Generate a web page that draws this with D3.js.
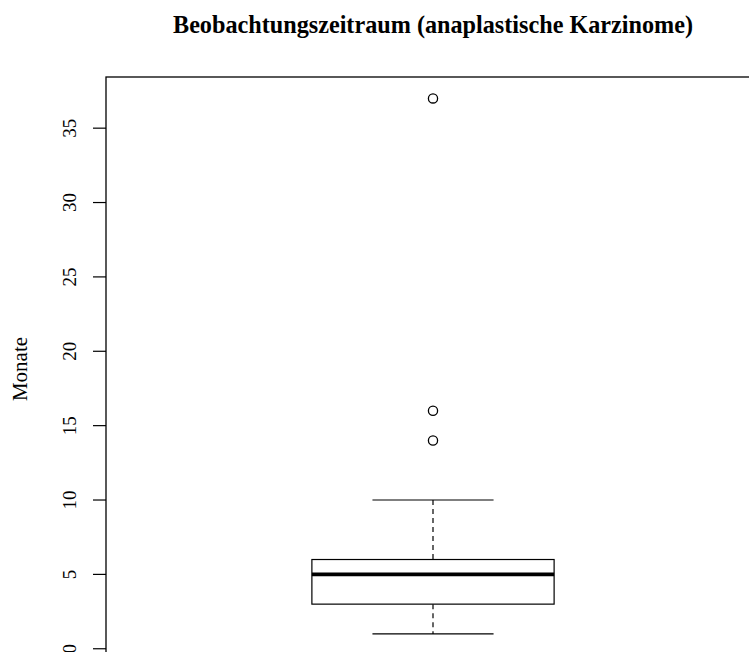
<!DOCTYPE html>
<html>
<head>
<meta charset="utf-8">
<script src="https://cdn.jsdelivr.net/npm/d3@7"></script>
<style>
  body { margin: 0; background: #fff; }
  svg { display: block; font-family: "Liberation Serif", "Times New Roman", serif; }
</style>
</head>
<body>
<div id="chart"></div>
<script>
'use strict';

// data (Monate)
var titleText = 'Beobachtungszeitraum (anaplastische Karzinome)',
    yLabel = 'Monate';
var yTicks = [0, 5, 10, 15, 20, 25, 30, 35];
var boxStats = [1, 3, 5, 6, 10];   // lower whisker, Q1, median, Q3, upper whisker
var outliers = [14, 16, 37];

(function(){
    var w = 749, h = 652;
    var svg = d3.select('#chart').append('svg')
        .attr('width', w)
        .attr('height', h);

    // plot region (bottom runs past the picture edge as in the reference)
    var pLeft = 106, pRight = 760, pTop = 77, pBottom = 655.3;

    // R style 4% padding
    var yMin = 1, yMax = 37, pad = (yMax - yMin) * 0.04;
    var y = d3.scaleLinear()
        .domain([yMin - pad, yMax + pad])
        .range([pBottom, pTop]);
    var x = d3.scaleLinear()
        .domain([0.46, 1.54])
        .range([pLeft, pRight]);

    // frame
    svg.append('rect')
        .attr('x', pLeft).attr('y', pTop)
        .attr('width', pRight - pLeft).attr('height', pBottom - pTop)
        .style('fill', 'none').style('stroke', 'black').style('stroke-width', 1.3);

    // y axis (0 label is cut by the bottom edge, as in the reference)
    var gAxis = svg.append('g');
    gAxis.selectAll('.tick').data(yTicks).enter().append('line')
        .attr('x1', pLeft - 13).attr('x2', pLeft)
        .attr('y1', function(d){ return y(d); })
        .attr('y2', function(d){ return y(d); })
        .style('stroke', 'black').style('stroke-width', 1.2);
    gAxis.selectAll('.lbl').data(yTicks).enter().append('text')
        .attr('transform', function(d){ return 'translate(76,' + y(d) + ') rotate(-90)'; })
        .attr('text-anchor', 'middle')
        .style('font-size', '19px')
        .text(function(d){ return d; });

    // box
    var cx = 1, bw = 0.2, sw = 0.1;
    var g = svg.append('g');
    g.append('line')
        .attr('x1', x(cx)).attr('x2', x(cx))
        .attr('y1', y(boxStats[4])).attr('y2', y(boxStats[3]))
        .style('stroke', 'black').style('stroke-dasharray', '5,4').style('stroke-width', 1.2);
    g.append('line')
        .attr('x1', x(cx)).attr('x2', x(cx))
        .attr('y1', y(boxStats[1])).attr('y2', y(boxStats[0]))
        .style('stroke', 'black').style('stroke-dasharray', '5,4').style('stroke-width', 1.2);
    [boxStats[0], boxStats[4]].forEach(function(v){
        g.append('line')
            .attr('x1', x(cx - sw)).attr('x2', x(cx + sw))
            .attr('y1', y(v)).attr('y2', y(v))
            .style('stroke', 'black').style('stroke-width', 1.2);
    });
    g.append('rect')
        .attr('x', x(cx - bw)).attr('y', y(boxStats[3]))
        .attr('width', x(cx + bw) - x(cx - bw))
        .attr('height', y(boxStats[1]) - y(boxStats[3]))
        .style('fill', 'white').style('stroke', 'black').style('stroke-width', 1.2);
    g.append('line')
        .attr('x1', x(cx - bw)).attr('x2', x(cx + bw))
        .attr('y1', y(boxStats[2])).attr('y2', y(boxStats[2]))
        .style('stroke', 'black').style('stroke-width', 3.6);

    g.selectAll('.out').data(outliers).enter().append('circle')
        .attr('cx', x(cx))
        .attr('cy', function(d){ return y(d); })
        .attr('r', 4.6)
        .style('fill', 'none').style('stroke', 'black').style('stroke-width', 1.3);

    // title and label
    svg.append('text')
        .attr('x', x(cx)).attr('y', 33)
        .attr('text-anchor', 'middle')
        .style('font-size', '24.2px').style('font-weight', 'bold')
        .text(titleText);
    svg.append('text')
        .attr('transform', 'translate(27,369) rotate(-90)')
        .attr('text-anchor', 'middle')
        .style('font-size', '21px')
        .text(yLabel);
})();
</script>
</body>
</html>
